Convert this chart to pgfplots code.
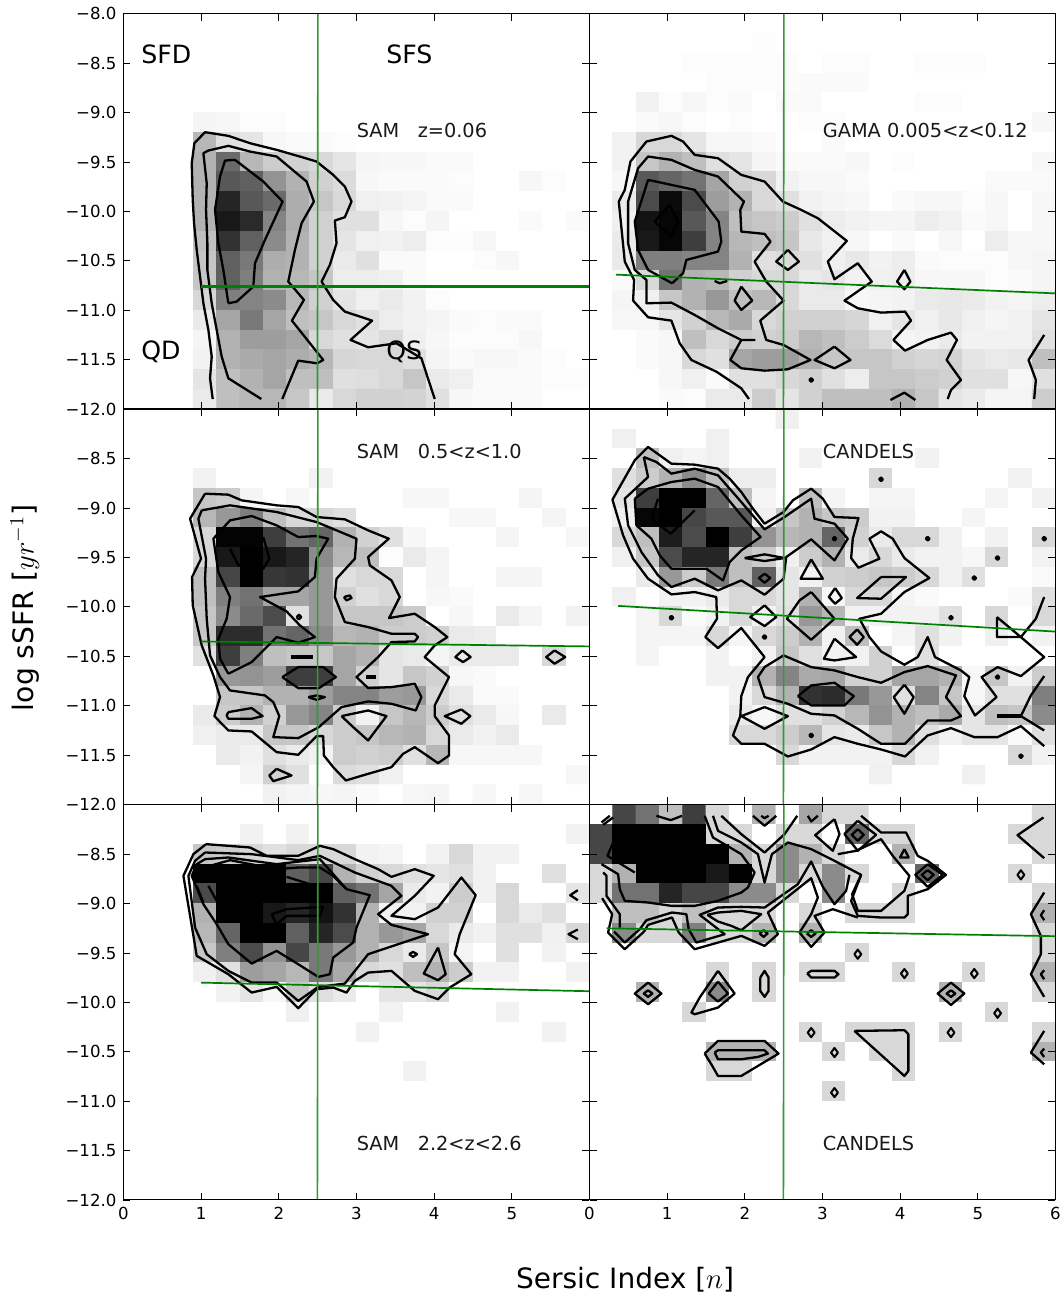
\documentclass[border=0pt]{standalone}
\usepackage{pgfplots}
\usepackage{fontspec}
\setmainfont{DejaVu Sans}
\pgfplotsset{compat=1.18}
\definecolor{gl}{rgb}{0.0,0.5,0.0}
\definecolor{vgreen}{rgb}{0.2,0.6,0.2}
\tikzset{
 lab/.style={anchor=base west,inner sep=0pt,font=\fontsize{9.65}{11}\selectfont,text=black!90},
 big/.style={anchor=base west,inner sep=0pt,font=\fontsize{12.6}{14}\selectfont},
 gh/.style={gl,line width=0.85pt},
}
\pgfplotsset{
 panel/.style={scale only axis, width=233pt, height=197.6pt, xmin=0,xmax=6,ymin=-12,ymax=-8,
  axis on top, tick align=inside, major tick length=3.5pt, ticklabel style={font=\fontsize{8.3}{9}\selectfont},
  tick style={black,line width=0.4pt}, axis line style={line width=0.5pt},
  xtick={0,1,2,3,4,5,6}, ytick={-12,-11.5,-11,-10.5,-10,-9.5,-9,-8.5,-8},
  xticklabels={}, yticklabels={},
  colormap={bw}{gray(0cm)=(1);gray(1cm)=(0)}, point meta min=0, point meta max=100,
  anchor=south west},
 heat/.style={matrix plot*, mesh/cols=20, mesh/rows=20, point meta=\thisrowno{0}},
 ctl/.style={black,line width=1.15pt,line join=round,mark=none},
 cL/.style={ctl, x filter/.expression={(x-10)/233.33}, y filter/.expression={-8-(y-12)/296.25}},
 cR/.style={ctl, x filter/.expression={(x-14)/233.33}, y filter/.expression={-8-(y-12)/296.25}},
 dR/.style={cR, only marks, mark=*, mark size=0.9pt},
}
\begin{document}
\begin{tikzpicture}
\useasboundingbox (0,0) rectangle (531pt,648pt);
% ---------- panel 1
\begin{axis}[panel, at={(61.75pt,443.5pt)}, yticklabels={−12.0,−11.5,−11.0,−10.5,−10.0,−9.5,−9.0,−8.5,−8.0}]
\addplot[heat] table[row sep=\\,header=false,x expr={0.15+0.3*(\coordindex-20*int((\coordindex+0.5)/20))},y expr={-8.1-0.2*int((\coordindex+0.5)/20)}] {
0\\0\\0\\0\\0\\0\\0\\0\\0\\0\\0\\0\\0\\0\\0\\0\\0\\0\\0\\0\\
0\\0\\0\\0\\0\\0\\0\\0\\0\\0\\0\\0\\0\\0\\0\\0\\0\\0\\0\\0\\
0\\0\\0\\0\\0\\0\\0\\0\\0\\0\\0\\0\\0\\0\\0\\0\\0\\0\\0\\0\\
0\\0\\0\\0\\0\\0\\0\\0\\0\\0\\0\\0\\0\\0\\0\\0\\0\\0\\0\\0\\
0\\0\\0\\0\\0\\0\\0\\0\\0\\0\\0\\0\\0\\0\\0\\0\\0\\0\\0\\0\\
0\\0\\0\\4\\3\\1\\1\\0\\0\\0\\0\\0\\0\\0\\0\\0\\0\\0\\0\\0\\
0\\0\\0\\28\\12\\10\\3\\2\\2\\1\\0\\0\\0\\0\\0\\0\\0\\0\\0\\0\\
0\\0\\0\\30\\58\\28\\20\\18\\15\\10\\4\\3\\3\\2\\2\\0\\0\\0\\0\\0\\
0\\0\\0\\30\\65\\62\\42\\30\\18\\14\\3\\2\\2\\2\\1\\0\\0\\3\\1\\0\\
0\\0\\0\\30\\85\\65\\58\\32\\22\\15\\6\\5\\4\\2\\2\\0\\0\\0\\0\\0\\
0\\0\\0\\30\\90\\83\\48\\32\\18\\12\\12\\3\\1\\4\\0\\0\\0\\2\\0\\2\\
0\\0\\0\\25\\80\\62\\45\\30\\18\\10\\6\\5\\7\\1\\1\\3\\0\\0\\0\\0\\
0\\0\\0\\22\\62\\52\\32\\30\\18\\8\\12\\2\\2\\0\\0\\1\\3\\0\\0\\0\\
0\\0\\0\\22\\62\\50\\30\\28\\22\\7\\7\\6\\2\\0\\0\\0\\0\\0\\0\\0\\
0\\0\\0\\15\\50\\48\\45\\28\\18\\10\\6\\8\\5\\1\\0\\0\\0\\0\\0\\0\\
0\\0\\0\\8\\35\\52\\35\\25\\22\\15\\12\\7\\5\\4\\2\\1\\2\\2\\0\\0\\
0\\0\\0\\4\\30\\38\\38\\35\\15\\12\\10\\14\\6\\3\\1\\1\\1\\3\\0\\0\\
0\\0\\0\\5\\30\\33\\35\\32\\28\\16\\15\\15\\12\\4\\2\\3\\3\\2\\1\\0\\
0\\0\\0\\10\\25\\30\\35\\25\\25\\12\\13\\15\\22\\8\\6\\2\\2\\2\\1\\1\\
0\\0\\0\\8\\25\\28\\28\\22\\8\\15\\18\\18\\17\\12\\3\\2\\2\\2\\0\\0\\
};
\addplot[cL] coordinates {(278,1167)(270,1105)(275,1040)(265,960)(250,880)(240,800)(230,720)(222,640)(218,570)(215,460)(223,400)(255,367)(325,378)(390,400)(470,420)(540,440)(590,455)(640,495)(675,530)(695,575)(675,622)(645,632)(650,700)(630,765)(605,815)(640,870)(675,905)(757,932)(692,990)(745,1012)(830,1000)(905,1045)(945,1167)};
\addplot[cL] coordinates {(424,1167)(325,1105)(305,1040)(290,960)(275,880)(262,780)(262,700)(258,600)(260,520)(250,430)(265,422)(325,408)(390,425)(470,440)(560,515)(582,575)(545,640)(525,720)(505,815)(552,870)(516,932)(610,1050)(592,1060)(535,1052)(487,1167)};
\addplot[cL] coordinates {(325,880)(350,875)(400,830)(405,760)(435,690)(488,575)(430,515)(345,450)(315,452)(300,500)(285,600)(295,700)(310,780)(322,860)(325,880)};
\addplot[gh,line width=1.2pt] coordinates {(1,-10.76)(6,-10.76)};
\addplot[color=vgreen,line width=0.8pt] coordinates {(2.497,-12)(2.503,-8)};
\node[big] at (axis cs:0.225,-8.5) {SFD};
\node[big] at (axis cs:3.38,-8.5) {SFS};
\node[big] at (axis cs:0.225,-11.5) {QD};
\node[big] at (axis cs:3.38,-11.5) {QS};
\node[lab] at (axis cs:3,-9.25) {SAM\ \ \ z=0.06};
\end{axis}
% ---------- panel 2
\begin{axis}[panel, at={(294.75pt,443.5pt)}]
\addplot[heat] table[row sep=\\,header=false,x expr={0.15+0.3*(\coordindex-20*int((\coordindex+0.5)/20))},y expr={-8.1-0.2*int((\coordindex+0.5)/20)}] {
0\\0\\0\\0\\0\\0\\0\\0\\0\\0\\0\\0\\0\\0\\0\\0\\0\\0\\0\\0\\
0\\0\\0\\0\\0\\0\\0\\1\\0\\0\\0\\0\\0\\0\\0\\0\\0\\0\\0\\0\\
0\\0\\0\\0\\1\\1\\1\\1\\1\\0\\1\\1\\0\\0\\1\\1\\1\\0\\0\\0\\
0\\0\\0\\0\\0\\1\\1\\1\\1\\2\\2\\2\\0\\0\\0\\0\\0\\0\\0\\0\\
0\\0\\5\\1\\3\\1\\2\\0\\2\\2\\0\\0\\0\\0\\1\\1\\0\\0\\0\\0\\
0\\0\\2\\3\\1\\0\\1\\0\\0\\1\\1\\0\\0\\0\\0\\0\\0\\0\\0\\3\\
0\\5\\15\\15\\10\\3\\3\\2\\0\\0\\2\\0\\0\\0\\0\\0\\0\\0\\0\\0\\
0\\5\\22\\30\\25\\12\\10\\4\\2\\2\\2\\3\\0\\1\\0\\0\\0\\0\\0\\3\\
0\\3\\65\\60\\55\\35\\18\\15\\5\\3\\3\\2\\0\\0\\0\\0\\0\\2\\2\\2\\
0\\8\\70\\95\\70\\38\\30\\15\\12\\5\\4\\3\\0\\2\\3\\3\\1\\3\\0\\3\\
0\\6\\92\\97\\65\\48\\25\\22\\20\\12\\7\\5\\4\\4\\7\\5\\2\\3\\0\\3\\
0\\8\\90\\97\\75\\48\\28\\25\\22\\9\\6\\3\\0\\2\\0\\3\\0\\7\\3\\3\\
0\\8\\50\\50\\48\\48\\30\\12\\14\\12\\6\\9\\5\\7\\2\\1\\1\\1\\3\\4\\
0\\2\\15\\55\\30\\28\\18\\15\\15\\8\\10\\5\\6\\7\\3\\3\\3\\1\\2\\4\\
0\\4\\6\\22\\30\\40\\25\\28\\15\\8\\8\\3\\4\\5\\8\\9\\8\\5\\4\\7\\
0\\3\\3\\10\\18\\28\\33\\15\\18\\18\\18\\16\\6\\10\\6\\9\\6\\4\\5\\10\\
0\\0\\2\\3\\25\\15\\20\\18\\20\\28\\25\\20\\14\\4\\5\\8\\5\\5\\5\\12\\
0\\0\\2\\3\\15\\12\\35\\38\\38\\30\\22\\22\\22\\18\\16\\17\\10\\8\\9\\25\\
0\\0\\0\\3\\6\\2\\12\\12\\15\\18\\12\\7\\22\\22\\20\\18\\12\\12\\3\\12\\
0\\0\\0\\2\\1\\8\\8\\20\\10\\18\\25\\25\\25\\30\\22\\10\\8\\4\\4\\20\\
};
\addplot[cR] coordinates {(493,1167)(470,1135)(395,1085)(320,1050)(285,1000)(260,932)(190,922)(145,872)(148,810)(120,755)(102,575)(120,540)(137,455)(185,395)(260,378)(295,395)(330,435)(400,445)(470,495)(540,515)(595,575)(650,600)(700,625)(787,693)(730,755)(750,808)(820,760)(862,815)(780,872)(820,895)(890,908)(962,905)(980,932)(927,990)(962,1022)(1030,990)(1100,968)(1118,990)(1087,1050)(1130,1110)(1100,1140)(1090,1167)};
\addplot[cR] coordinates {(512,990)(470,990)(437,1050)(470,1075)(540,1082)(610,1078)(678,1050)(597,1005)(545,990)(527,932)(597,872)(545,815)(510,755)(558,695)(540,672)(470,665)(467,600)(478,575)(400,500)(330,480)(260,450)(190,440)(160,475)(130,575)(130,700)(150,780)(185,810)(185,880)(260,878)(330,915)(400,955)(470,990)};
\addplot[cR] coordinates {(262,820)(295,790)(305,750)(400,725)(410,695)(402,635)(330,540)(190,510)(150,635)(160,720)(190,780)(262,820)};
\addplot[cR] coordinates {(255,585)(210,635)(258,680)(280,635)(255,585)};
\addplot[cR] coordinates {(610,720)(643,755)(610,780)(575,755)(610,720)};
\addplot[cR] coordinates {(470,830)(503,872)(470,900)(450,872)(470,830)};
\addplot[cR] coordinates {(750,1010)(798,1050)(750,1075)(690,1050)(750,1010)};
\addplot[cR] coordinates {(960,780)(978,815)(960,838)(938,815)(960,780)};
\addplot[cR] coordinates {(390,813)(405,820)(428,813)};
\addplot[dR] coordinates {(680,1110)};
\addplot[cR] coordinates {(918,1170)(960,1148)(993,1170)};
\addplot[cR] coordinates {(1380,975)(1333,1050)(1355,1110)(1350,1167)};
\addplot[gh] coordinates {(0.34,-10.64)(6,-10.83)};
\addplot[color=vgreen,line width=0.8pt] coordinates {(2.497,-12)(2.503,-8)};
\node[lab] at (axis cs:3,-9.25) {GAMA 0.005<z<0.12};
\end{axis}
% ---------- panel 3
\begin{axis}[panel, at={(61.75pt,245.75pt)}, yticklabels={−12.0,−11.5,−11.0,−10.5,−10.0,−9.5,−9.0,−8.5,{}}]
\addplot[heat] table[row sep=\\,header=false,x expr={0.15+0.3*(\coordindex-20*int((\coordindex+0.5)/20))},y expr={-8.1-0.2*int((\coordindex+0.5)/20)}] {
0\\0\\0\\0\\0\\0\\0\\0\\0\\0\\0\\0\\0\\0\\0\\0\\0\\0\\0\\0\\
0\\0\\0\\0\\0\\0\\0\\0\\0\\0\\0\\0\\0\\0\\0\\0\\0\\0\\0\\0\\
0\\0\\0\\0\\0\\0\\0\\0\\0\\0\\0\\0\\0\\0\\0\\0\\0\\0\\0\\0\\
0\\0\\0\\5\\0\\0\\0\\0\\5\\0\\0\\0\\0\\0\\0\\0\\0\\0\\0\\0\\
0\\0\\0\\22\\20\\4\\0\\3\\0\\0\\0\\0\\3\\3\\0\\0\\0\\4\\0\\0\\
0\\0\\0\\28\\40\\50\\25\\15\\15\\12\\0\\0\\0\\0\\3\\3\\0\\0\\4\\0\\
0\\0\\0\\15\\98\\98\\75\\55\\60\\30\\18\\12\\3\\0\\0\\0\\4\\0\\0\\3\\
0\\0\\0\\15\\90\\100\\90\\85\\45\\28\\25\\1\\8\\4\\0\\0\\0\\0\\0\\0\\
0\\0\\0\\25\\72\\100\\78\\80\\40\\12\\15\\15\\0\\4\\0\\0\\4\\4\\0\\0\\
0\\0\\0\\25\\50\\55\\35\\35\\40\\18\\12\\15\\0\\3\\2\\0\\0\\0\\0\\0\\
0\\0\\0\\22\\45\\58\\70\\12\\40\\22\\22\\22\\20\\0\\3\\0\\8\\4\\0\\5\\
0\\0\\0\\22\\82\\82\\55\\60\\45\\28\\30\\20\\20\\18\\8\\7\\0\\0\\0\\0\\
0\\0\\0\\12\\75\\50\\25\\22\\22\\35\\30\\10\\8\\4\\8\\8\\8\\0\\15\\0\\
0\\0\\0\\0\\40\\42\\38\\75\\75\\35\\18\\10\\22\\18\\3\\2\\0\\0\\0\\0\\
0\\0\\0\\0\\22\\22\\30\\30\\38\\48\\48\\38\\40\\15\\8\\2\\2\\0\\0\\0\\
0\\0\\0\\8\\20\\30\\18\\40\\48\\20\\5\\22\\28\\20\\12\\8\\3\\0\\8\\0\\
0\\0\\0\\6\\8\\8\\22\\22\\15\\20\\22\\28\\30\\15\\8\\5\\8\\0\\0\\0\\
0\\0\\0\\0\\8\\5\\12\\8\\5\\20\\18\\20\\12\\28\\3\\3\\3\\3\\0\\0\\
0\\0\\0\\0\\0\\4\\18\\12\\0\\14\\12\\6\\0\\0\\0\\0\\0\\0\\0\\3\\
0\\0\\0\\0\\0\\0\\5\\4\\3\\4\\2\\0\\3\\4\\0\\3\\0\\3\\0\\0\\
};
\addplot[cL] coordinates {(255,265)(325,268)(365,285)(470,300)(535,305)(590,335)(675,342)(745,375)(807,400)(745,455)(750,480)(815,525)(840,575)(808,638)(885,625)(945,665)(983,695)(945,720)(915,755)(988,815)(945,900)(945,932)(988,990)(988,1050)(955,1073)(885,1025)(850,1045)(815,1085)(745,1105)(678,1125)(640,1085)(612,1050)(610,992)(590,992)(535,1048)(470,1040)(395,978)(325,975)(283,932)(300,875)(280,810)(245,720)(218,600)(216,515)(243,460)(210,340)(255,265)};
\addplot[cL] coordinates {(245,315)(330,300)(470,320)(590,350)(710,400)(705,460)(650,520)(645,575)(675,650)(745,665)(815,685)(885,685)(895,695)(885,708)(815,710)(775,755)(710,815)(745,848)(815,845)(885,835)(905,875)(888,915)(815,895)(745,888)(665,905)(597,965)(535,998)(460,995)(478,932)(460,890)(435,870)(330,855)(300,815)(270,750)(260,640)(255,520)(258,460)(235,340)(245,315)};
\addplot[cL] coordinates {(325,805)(395,770)(470,695)(535,712)(585,695)(540,660)(500,618)(420,575)(535,558)(585,515)(590,460)(625,400)(590,392)(535,395)(470,360)(395,332)(330,345)(280,400)(295,500)(330,575)(320,640)(295,700)(300,760)(325,805)};
\addplot[cL] coordinates {(330,430)(355,480)(430,490)(448,460)(430,395)};
\addplot[cL] coordinates {(487,815)(535,785)(610,785)(648,815)(597,848)(535,848)(487,815)};
\addplot[cL,line width=1.7pt] coordinates {(512,755)(578,755)};
\addplot[cL] coordinates {(565,875)(590,870)(615,875)(590,883)(565,875)};
\addplot[cL,line width=1.7pt] coordinates {(740,815)(768,815)};
\addplot[cL] coordinates {(530,635)(537,628)(544,635)(537,642)(530,635)};
\addplot[cL] coordinates {(672,575)(690,570)(695,578)(680,585)(672,575)};
\addplot[cL] coordinates {(325,920)(395,908)(428,932)(395,940)(325,940)(320,930)(325,920)};
\addplot[cL] coordinates {(665,932)(745,915)(800,932)(745,1005)(700,965)(665,932)};
\addplot[cL] coordinates {(1028,735)(1053,755)(1030,770)(1007,755)(1028,735)};
\addplot[cL] coordinates {(1305,735)(1337,755)(1305,775)(1280,755)(1305,735)};
\addplot[cL] coordinates {(1025,912)(1052,932)(1025,955)(975,932)(1025,912)};
\addplot[cL] coordinates {(470,1090)(515,1110)(460,1127)(448,1110)(470,1090)};
\addplot[gh] coordinates {(1,-10.35)(6,-10.40)};
\addplot[color=vgreen,line width=0.8pt] coordinates {(2.497,-12)(2.503,-8)};
\node[lab] at (axis cs:3,-8.5) {SAM\ \ \ 0.5<z<1.0};
\end{axis}
% ---------- panel 4
\begin{axis}[panel, at={(294.75pt,245.75pt)}]
\addplot[heat] table[row sep=\\,header=false,x expr={0.15+0.3*(\coordindex-20*int((\coordindex+0.5)/20))},y expr={-8.1-0.2*int((\coordindex+0.5)/20)}] {
0\\0\\0\\0\\0\\0\\0\\0\\6\\0\\0\\0\\0\\0\\0\\0\\0\\0\\0\\0\\
0\\6\\0\\0\\0\\6\\0\\0\\0\\0\\0\\0\\0\\0\\0\\0\\0\\0\\0\\0\\
0\\0\\25\\6\\4\\6\\0\\0\\0\\5\\0\\0\\0\\0\\5\\0\\0\\0\\0\\0\\
0\\12\\20\\30\\45\\25\\7\\7\\0\\0\\0\\0\\15\\0\\0\\0\\0\\0\\5\\0\\
0\\10\\75\\100\\100\\60\\25\\4\\0\\25\\4\\0\\4\\4\\0\\0\\0\\4\\0\\5\\
0\\6\\97\\100\\72\\65\\65\\6\\22\\30\\22\\20\\5\\5\\0\\0\\4\\0\\0\\0\\
0\\15\\25\\88\\70\\100\\75\\42\\28\\30\\60\\18\\8\\15\\15\\5\\0\\5\\0\\15\\
0\\6\\22\\70\\85\\85\\25\\20\\6\\20\\30\\8\\15\\8\\5\\5\\3\\15\\0\\5\\
0\\0\\8\\40\\20\\52\\25\\62\\10\\5\\18\\20\\22\\20\\15\\5\\12\\0\\0\\2\\
0\\6\\0\\5\\5\\8\\15\\15\\10\\30\\3\\15\\15\\4\\2\\0\\0\\0\\2\\12\\
0\\0\\4\\15\\2\\5\\15\\5\\12\\40\\28\\5\\5\\5\\5\\12\\0\\15\\0\\15\\
0\\0\\4\\4\\4\\15\\4\\15\\20\\30\\5\\25\\0\\4\\12\\5\\0\\6\\0\\5\\
0\\0\\4\\0\\0\\5\\0\\5\\22\\12\\5\\5\\18\\0\\12\\0\\0\\0\\0\\0\\
0\\0\\0\\0\\0\\5\\5\\30\\48\\33\\35\\18\\18\\35\\35\\30\\3\\22\\5\\20\\
0\\0\\0\\0\\0\\0\\5\\15\\30\\80\\82\\52\\40\\12\\48\\22\\3\\12\\12\\50\\
0\\0\\0\\0\\0\\0\\8\\3\\12\\12\\18\\28\\42\\30\\25\\33\\10\\25\\22\\45\\
0\\0\\0\\0\\0\\0\\15\\15\\20\\28\\10\\8\\22\\30\\12\\5\\10\\10\\2\\12\\
0\\0\\0\\0\\0\\0\\0\\0\\15\\5\\5\\5\\5\\15\\5\\0\\0\\0\\15\\5\\
0\\0\\0\\0\\0\\0\\0\\0\\0\\0\\0\\0\\6\\0\\0\\0\\6\\0\\0\\0\\
0\\0\\0\\0\\0\\0\\0\\0\\0\\0\\0\\0\\0\\0\\0\\0\\0\\0\\0\\0\\
};
\addplot[cR] coordinates {(1380,575)(1355,640)(1310,695)(1380,755)(1310,812)(1240,785)(1192,815)(1237,875)(1172,930)(1140,872)(1155,815)(1130,795)(1052,755)(1030,695)(1000,755)(960,778)(890,738)(855,695)(825,640)(890,625)(960,560)(1035,518)(960,458)(925,400)(890,378)(855,400)(885,460)(822,487)(800,458)(805,400)(822,338)(750,335)(715,280)(680,250)(625,285)(597,320)(540,355)(505,310)(470,260)(435,220)(400,190)(330,178)(260,175)(190,125)(150,165)(83,283)(115,390)(145,460)(190,520)(260,567)(330,560)(395,575)(397,640)(362,695)(400,728)(470,668)(540,755)(490,815)(470,872)(467,932)(445,990)(470,1015)(540,1015)(610,1053)(680,1032)(750,995)(820,1015)(890,1032)(962,1053)(1030,990)(1100,968)(1170,995)(1240,995)(1310,962)(1380,1022)};
\addplot[cR] coordinates {(1380,812)(1340,870)(1310,932)(1380,975)};
\addplot[cR,line width=1.8pt] coordinates {(1237,932)(1310,932)};
\addplot[cR] coordinates {(177,155)(190,215)(120,280)(130,360)(170,440)(220,510)(260,545)(330,520)(400,555)(470,525)(540,568)(597,520)(605,455)(680,402)(750,465)(790,400)(750,355)(690,340)(680,280)(600,335)(540,372)(470,290)(400,210)(330,190)(260,205)(215,170)(177,155)};
\addplot[cR] coordinates {(150,280)(190,250)(260,230)(330,220)(400,245)(470,330)(528,395)(470,435)(435,470)(415,525)(365,490)(260,490)(225,450)(200,400)(155,360)(150,280)};
\addplot[cR] coordinates {(220,280)(200,340)(258,385)(330,315)};
\addplot[cR] coordinates {(480,458)(540,447)(600,458)(540,467)(480,458)};
\addplot[cR] coordinates {(540,505)(557,518)(540,532)(523,518)(540,505)};
\addplot[cR] coordinates {(680,462)(715,520)(648,520)(680,462)};
\addplot[cR] coordinates {(680,560)(750,640)(680,703)(607,640)(645,585)(680,560)};
\addplot[cR] coordinates {(752,548)(772,578)(752,595)(733,575)(752,548)};
\addplot[cR] coordinates {(818,672)(838,695)(818,718)(795,695)(818,672)};
\addplot[cR] coordinates {(890,515)(965,515)(890,580)(818,578)(890,515)};
\addplot[cR] coordinates {(540,600)(575,635)(540,662)(497,635)(540,600)};
\addplot[cR] coordinates {(750,700)(815,755)(750,765)(718,760)(750,700)};
\addplot[cR] coordinates {(540,905)(610,932)(540,970)(470,932)(540,905)};
\addplot[cR] coordinates {(597,750)(680,785)(750,795)(820,815)(890,832)(960,800)(1030,782)(1115,810)(1085,875)(1130,932)(1100,945)(1030,945)(962,1015)(890,1015)(820,970)(750,930)(680,925)(610,895)(540,875)(520,815)(540,785)(597,750)};
\addplot[cR] coordinates {(640,872)(680,840)(750,832)(808,872)(780,900)(680,900)(640,872)};
\addplot[cR] coordinates {(960,838)(988,875)(960,925)(928,875)(960,838)};
\addplot[cR] coordinates {(1238,635)(1310,695)(1238,695)(1238,635)};
\addplot[dR] coordinates {(890,222)(1030,400)(750,400)(1380,400)(1240,458)(1170,518)(1100,637)(260,637)(1240,815)(540,695)(680,990)(1310,1052)};
\addplot[gh] coordinates {(0.37,-9.99)(6,-10.25)};
\addplot[color=vgreen,line width=0.8pt] coordinates {(2.497,-12)(2.503,-8)};
\node[lab] at (axis cs:3,-8.5) {CANDELS};
\end{axis}
% ---------- panel 5
\begin{axis}[panel, at={(61.75pt,48pt)}, yticklabels={−12.0,−11.5,−11.0,−10.5,−10.0,−9.5,−9.0,−8.5,{}}, xticklabels={0,1,2,3,4,5,{}}]
\addplot[heat] table[row sep=\\,header=false,x expr={0.15+0.3*(\coordindex-20*int((\coordindex+0.5)/20))},y expr={-8.1-0.2*int((\coordindex+0.5)/20)}] {
0\\0\\0\\0\\0\\0\\0\\0\\0\\0\\0\\0\\0\\0\\0\\0\\0\\0\\0\\0\\
0\\0\\0\\0\\0\\5\\0\\5\\0\\0\\0\\0\\0\\0\\0\\0\\0\\0\\0\\5\\
0\\0\\0\\22\\20\\15\\12\\15\\15\\15\\5\\4\\0\\5\\15\\5\\5\\0\\0\\0\\
0\\0\\0\\100\\100\\100\\100\\62\\72\\30\\18\\15\\12\\10\\12\\5\\0\\0\\12\\0\\
0\\0\\0\\70\\100\\100\\100\\100\\100\\62\\55\\35\\8\\5\\20\\5\\15\\0\\0\\10\\
0\\0\\0\\30\\100\\100\\90\\85\\92\\80\\30\\5\\5\\18\\18\\0\\15\\8\\12\\0\\
0\\0\\0\\28\\60\\100\\100\\62\\85\\70\\30\\40\\35\\15\\8\\5\\12\\12\\6\\15\\
0\\0\\0\\22\\50\\70\\42\\72\\52\\40\\30\\15\\8\\22\\4\\0\\12\\0\\5\\0\\
0\\0\\0\\6\\12\\38\\35\\28\\52\\33\\15\\12\\25\\30\\20\\5\\5\\0\\0\\5\\
0\\0\\0\\0\\5\\10\\3\\22\\12\\8\\0\\10\\10\\15\\0\\0\\0\\0\\0\\0\\
0\\0\\0\\0\\0\\0\\0\\6\\0\\0\\0\\5\\0\\0\\0\\0\\5\\0\\0\\0\\
0\\0\\0\\0\\0\\0\\0\\0\\0\\0\\5\\0\\0\\0\\0\\0\\0\\0\\5\\0\\
0\\0\\0\\0\\0\\0\\0\\0\\0\\0\\0\\0\\0\\0\\0\\0\\0\\0\\0\\0\\
0\\0\\0\\0\\0\\0\\0\\0\\0\\0\\0\\0\\5\\0\\0\\0\\0\\0\\0\\0\\
0\\0\\0\\0\\0\\0\\0\\0\\0\\0\\0\\0\\0\\0\\0\\0\\0\\0\\0\\0\\
0\\0\\0\\0\\0\\0\\0\\0\\0\\0\\0\\0\\0\\0\\0\\0\\0\\0\\0\\0\\
0\\0\\0\\0\\0\\0\\0\\0\\0\\0\\0\\0\\0\\0\\0\\0\\0\\0\\0\\0\\
0\\0\\0\\0\\0\\0\\0\\0\\0\\0\\0\\0\\0\\0\\0\\0\\0\\0\\0\\0\\
0\\0\\0\\0\\0\\0\\0\\0\\0\\0\\0\\0\\0\\0\\0\\0\\0\\0\\0\\0\\
0\\0\\0\\0\\0\\0\\0\\0\\0\\0\\0\\0\\0\\0\\0\\0\\0\\0\\0\\0\\
};
\addplot[cL] coordinates {(258,130)(325,135)(390,140)(440,165)(535,165)(600,135)(640,145)(705,175)(775,205)(815,228)(885,205)(942,225)(885,285)(815,345)(885,355)(955,320)(1025,230)(1068,283)(1020,400)(1005,460)(1055,520)(990,560)(955,595)(885,570)(815,510)(745,515)(705,540)(680,575)(640,560)(590,565)(535,622)(470,558)(395,575)(325,520)(230,465)(210,345)(190,225)(220,160)(258,130)};
\addplot[cL] coordinates {(255,155)(395,160)(535,178)(600,165)(705,215)(815,255)(845,285)(775,340)(815,372)(925,400)(850,425)(745,460)(675,548)(595,558)(535,600)(470,545)(395,545)(325,510)(260,460)(225,380)(205,225)(225,180)(255,155)};
\addplot[cL] coordinates {(255,175)(325,170)(470,190)(600,175)(680,265)(750,283)(710,380)(700,425)(640,470)(630,520)(595,528)(535,490)(470,450)(395,488)(325,430)(290,370)(250,310)(215,225)(230,190)(255,175)};
\addplot[cL] coordinates {(215,228)(270,195)(330,178)(470,205)(535,200)(600,200)(640,225)(680,265)};
\addplot[cL] coordinates {(500,228)(570,250)(640,250)};
\addplot[cL] coordinates {(230,255)(250,305)};
\addplot[cL] coordinates {(265,255)(290,300)};
\addplot[cL] coordinates {(455,340)(500,325)(610,318)(600,345)(500,345)(470,370)(455,340)};
\addplot[cL] coordinates {(868,460)(880,453)(892,460)(880,468)(868,460)};
\addplot[cL] coordinates {(955,440)(978,520)(955,538)(912,518)(955,440)};
\addplot[cL] coordinates {(1375,268)(1352,283)(1375,298)};
\addplot[cL] coordinates {(1375,386)(1347,400)(1375,415)};
\addplot[gh] coordinates {(1,-9.80)(6,-9.887)};
\addplot[color=vgreen,line width=0.8pt] coordinates {(2.497,-12)(2.503,-8)};
\node[lab] at (axis cs:3,-11.5) {SAM\ \ \ 2.2<z<2.6};
\end{axis}
% ---------- panel 6
\begin{axis}[panel, at={(294.75pt,48pt)}, xticklabels={0,1,2,3,4,5,6}]
\addplot[heat] table[row sep=\\,header=false,x expr={0.15+0.3*(\coordindex-20*int((\coordindex+0.5)/20))},y expr={-8.1-0.2*int((\coordindex+0.5)/20)}] {
0\\72\\55\\25\\75\\15\\0\\30\\0\\35\\15\\15\\0\\0\\0\\0\\0\\0\\0\\15\\
72\\100\\100\\100\\100\\15\\15\\0\\15\\15\\0\\60\\15\\15\\0\\0\\0\\0\\15\\15\\
72\\100\\100\\100\\100\\100\\30\\15\\45\\30\\15\\0\\0\\30\\0\\0\\0\\0\\0\\15\\
15\\30\\100\\100\\100\\90\\100\\15\\45\\15\\45\\15\\0\\0\\60\\0\\0\\0\\15\\0\\
15\\55\\55\\85\\72\\72\\45\\45\\15\\0\\45\\0\\0\\15\\0\\0\\0\\0\\0\\15\\
0\\25\\25\\15\\25\\15\\15\\15\\0\\15\\0\\15\\15\\15\\0\\0\\0\\0\\0\\30\\
0\\45\\15\\15\\50\\15\\15\\30\\0\\30\\0\\0\\0\\0\\0\\0\\0\\0\\0\\15\\
0\\0\\0\\0\\0\\0\\0\\0\\0\\0\\0\\15\\0\\0\\0\\0\\0\\0\\0\\15\\
0\\0\\0\\0\\0\\15\\0\\15\\0\\15\\15\\0\\0\\15\\0\\0\\15\\0\\0\\30\\
0\\0\\30\\0\\0\\45\\0\\15\\0\\0\\0\\0\\0\\0\\0\\30\\0\\0\\0\\15\\
0\\0\\0\\0\\15\\0\\0\\0\\0\\0\\0\\0\\0\\0\\0\\0\\0\\15\\0\\0\\
0\\0\\0\\0\\0\\0\\0\\0\\0\\15\\0\\15\\15\\15\\0\\15\\0\\0\\0\\15\\
0\\0\\0\\0\\0\\30\\30\\30\\0\\0\\15\\0\\15\\15\\0\\0\\0\\0\\0\\30\\
0\\0\\0\\0\\0\\15\\15\\0\\0\\0\\0\\0\\0\\15\\0\\0\\0\\0\\0\\0\\
0\\0\\0\\0\\0\\0\\0\\0\\0\\0\\15\\0\\0\\0\\0\\0\\0\\0\\0\\0\\
0\\0\\0\\0\\0\\0\\0\\0\\0\\0\\0\\0\\0\\0\\0\\0\\0\\0\\0\\0\\
0\\0\\0\\0\\0\\0\\0\\0\\0\\0\\0\\0\\0\\0\\0\\0\\0\\0\\0\\0\\
0\\0\\0\\0\\0\\0\\0\\0\\0\\0\\0\\0\\0\\0\\0\\0\\0\\0\\0\\0\\
0\\0\\0\\0\\0\\0\\0\\0\\0\\0\\0\\0\\0\\0\\0\\0\\0\\0\\0\\0\\
0\\0\\0\\0\\0\\0\\0\\0\\0\\0\\0\\0\\0\\0\\0\\0\\0\\0\\0\\0\\
};
\addplot[cR] coordinates {(410,45)(470,100)(540,155)(600,100)(638,45)};
\addplot[cR] coordinates {(385,45)(400,90)(470,125)(520,160)(540,245)(562,160)(610,125)(680,145)(750,180)(830,222)(800,300)(820,345)(890,350)(960,350)(970,340)(970,285)(1030,265)(1085,222)(1030,180)(1000,165)(965,95)(890,95)(830,45)};
\addplot[cR] coordinates {(360,45)(385,110)(470,160)(510,215)(490,260)(470,275)(400,300)(330,315)(260,315)(190,305)(120,300)(105,265)(100,220)(50,190)};
\addplot[cR] coordinates {(85,125)(68,165)(150,215)};
\addplot[cR] coordinates {(55,215)(65,225)(65,285)(105,340)(105,380)};
\addplot[cR] coordinates {(52,292)(82,340)(70,395)(120,445)(178,392)(190,372)(262,350)(282,395)(330,445)(400,425)(470,405)(540,435)(580,400)(550,335)(680,232)(700,290)(680,340)(645,395)(680,438)(720,395)(690,345)(745,325)(820,350)};
\addplot[cR] coordinates {(88,392)(120,425)(165,385)(185,358)(262,335)(305,340)(312,385)(335,425)(420,400)(345,342)(400,320)(470,318)(540,320)(597,280)(640,250)(680,182)(715,258)(750,310)(785,270)(795,222)};
\addplot[cR] coordinates {(368,342)(400,335)(470,330)(530,340)(470,388)(440,375)(400,362)(368,342)};
\addplot[cR] coordinates {(760,160)(815,150)(890,115)(925,165)(975,225)(960,270)(890,330)(820,330)(803,280)(830,222)};
\addplot[cR] coordinates {(750,55)(765,100)(745,150)(692,103)(750,55)};
\addplot[cR] coordinates {(820,60)(875,102)(820,150)(780,100)(820,60)};
\addplot[cR] coordinates {(820,85)(838,102)(820,120)(802,102)(820,85)};
\addplot[cR] coordinates {(1030,190)(1075,222)(1030,258)(993,222)(1030,190)};
\addplot[cR] coordinates {(1030,208)(1048,222)(1030,238)(1012,222)(1030,208)};
\addplot[cR] coordinates {(960,145)(973,170)(947,170)(960,145)};
\addplot[cR] coordinates {(190,545)(230,578)(190,610)(150,578)(190,545)};
\addplot[cR] coordinates {(190,568)(203,578)(190,588)(177,578)(190,568)};
\addplot[cR] coordinates {(1100,545)(1140,578)(1100,612)(1060,578)(1100,545)};
\addplot[cR] coordinates {(1100,568)(1113,578)(1100,588)(1087,578)(1100,568)};
\addplot[cR] coordinates {(400,510)(450,578)(400,620)(330,640)(320,635)(345,590)(400,510)};
\addplot[cR] coordinates {(400,542)(430,578)(400,602)(372,578)(400,542)};
\addplot[cR] coordinates {(527,530)(540,510)(552,530)(552,570)(540,588)(527,570)(527,530)};
\addplot[cR] coordinates {(668,518)(680,510)(750,510)(762,520)(750,530)(680,530)(668,518)};
\addplot[cR] coordinates {(360,758)(400,720)(540,720)(582,758)(520,795)(470,825)(400,825)(380,790)(360,758)};
\addplot[cR] coordinates {(390,755)(400,748)(540,748)(550,758)(520,768)(470,775)(400,775)(390,755)};
\addplot[cR] coordinates {(810,690)(960,688)(972,700)(972,810)(960,825)(810,690)};
\addplot[cR] coordinates {(1378,50)(1300,103)(1380,172)};
\addplot[cR] coordinates {(1380,275)(1340,340)(1370,405)(1370,460)(1340,520)(1380,588)};
\addplot[cR] coordinates {(1380,328)(1370,343)(1380,358)};
\addplot[cR] coordinates {(1380,508)(1370,520)(1380,535)};
\addplot[cR] coordinates {(1380,690)(1340,755)(1380,790)};
\addplot[cR] coordinates {(1380,743)(1370,755)(1380,768)};
\addplot[cR] coordinates {(215,45)(258,58)(292,45)};
\addplot[cR] coordinates {(505,45)(540,75)(575,45)};
\addplot[cR] coordinates {(530,45)(540,52)(552,45)};
\addplot[cR] coordinates {(670,45)(680,62)(700,45)};
\addplot[cR] coordinates {(50,65)(75,45)};
\addplot[cR] coordinates {(55,72)(85,50)};
\addplot[cR] coordinates {(525,398)(537,388)(549,398)(537,408)(525,398)};
\addplot[cR] coordinates {(667,398)(680,388)(693,398)(680,408)(667,398)};
\addplot[cR,line width=1pt,only marks,mark=diamond,mark size=2.3pt,mark options={solid}] coordinates {(820,460)(960,518)(1170,518)(1310,222)(1240,637)(1100,695)(680,695)(750,755)(750,875)};
\addplot[gh] coordinates {(0.22,-9.25)(6,-9.33)};
\addplot[color=vgreen,line width=0.8pt] coordinates {(2.497,-12)(2.503,-8)};
\node[lab] at (axis cs:3,-11.5) {CANDELS};
\end{axis}
\node[rotate=90,font=\fontsize{14.1}{16}\selectfont] at (12.5pt,344pt) {log sSFR [$yr^{-1}$]};
\node[font=\fontsize{14}{16}\selectfont] at (312.5pt,8pt) {Sersic Index [$n$]};
\end{tikzpicture}
\end{document}
